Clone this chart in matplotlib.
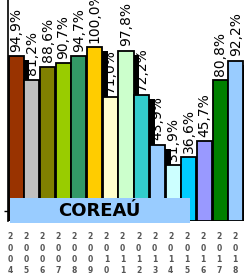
import numpy as np
import matplotlib
matplotlib.use("Agg")
import matplotlib.pyplot as plt
from matplotlib.patches import Rectangle

# dados
anos = ['2004', '2005', '2006', '2007', '2008', '2009', '2010', '2011',
        '2012', '2013', '2014', '2015', '2016', '2017', '2018']
valores = [94.9, 81.2, 88.6, 90.7, 94.7, 100.0, 71.0, 97.8,
           72.2, 43.9, 31.9, 36.6, 45.7, 80.8, 92.2]
cores = ['#993300', '#C0C0C0', '#808000', '#99CC00', '#339966', '#FFCC00',
         '#FFFFCC', '#CCFFCC', '#33CCCC', '#99CCFF', '#CCFFFF', '#00CCFF',
         '#9999FF', '#008000', '#99CCFF']
titulo = 'COREAÚ'

fig = plt.figure(figsize=(2.46, 2.75), dpi=100)
ax = fig.add_axes([8/246, 1 - 221/275, 236/246, 221/275])

x = np.arange(len(valores))
largura = 0.96

# sombra preta
ax.bar(x + 0.36, np.array(valores) - 2.3, width=largura, color='black',
       zorder=1)
# barras
ax.bar(x, valores, width=largura, color=cores, edgecolor='black',
       linewidth=1.3, zorder=2)

for xi, v in zip(x, valores):
    ax.text(xi, v + 2.5, f'{v:.1f}%'.replace('.', ','), rotation=90,
            ha='center', va='bottom', fontsize=10, zorder=4)

ax.set_xlim(-0.52, len(valores) - 0.48)
ax.set_ylim(0, 127)
ax.set_xticks([])
ax.set_yticks([6])
ax.set_yticklabels([])
ax.tick_params(axis='y', length=3, width=1)
for s in ['top', 'right', 'bottom']:
    ax.spines[s].set_visible(False)
ax.spines['left'].set_linewidth(1.2)

# rotulos dos anos (eixo proprio, um pouco deslocado)
ax2 = fig.add_axes([10/246, 1 - 221/275, 225/246, 0.001], frameon=False)
ax2.set_xlim(0, len(anos) - 1)
ax2.set_yticks([])
ax2.set_xticks(x)
ax2.set_xticklabels(['\n'.join(a) for a in anos], fontsize=5.5,
                    color='#555555', fontweight='bold', linespacing=1.35)
ax2.tick_params(axis='x', length=0, pad=8)

# caixa do titulo
fig.patches.append(Rectangle((10/246, 1 - 223/275), 180/246, 25/275,
                             transform=fig.transFigure, facecolor='#99CCFF',
                             edgecolor='none', zorder=5))
fig.text(99/246, 1 - 211/275, titulo, ha='center', va='center',
         fontsize=13, fontweight='bold', zorder=6)

fig.savefig('out.png', dpi=100)
